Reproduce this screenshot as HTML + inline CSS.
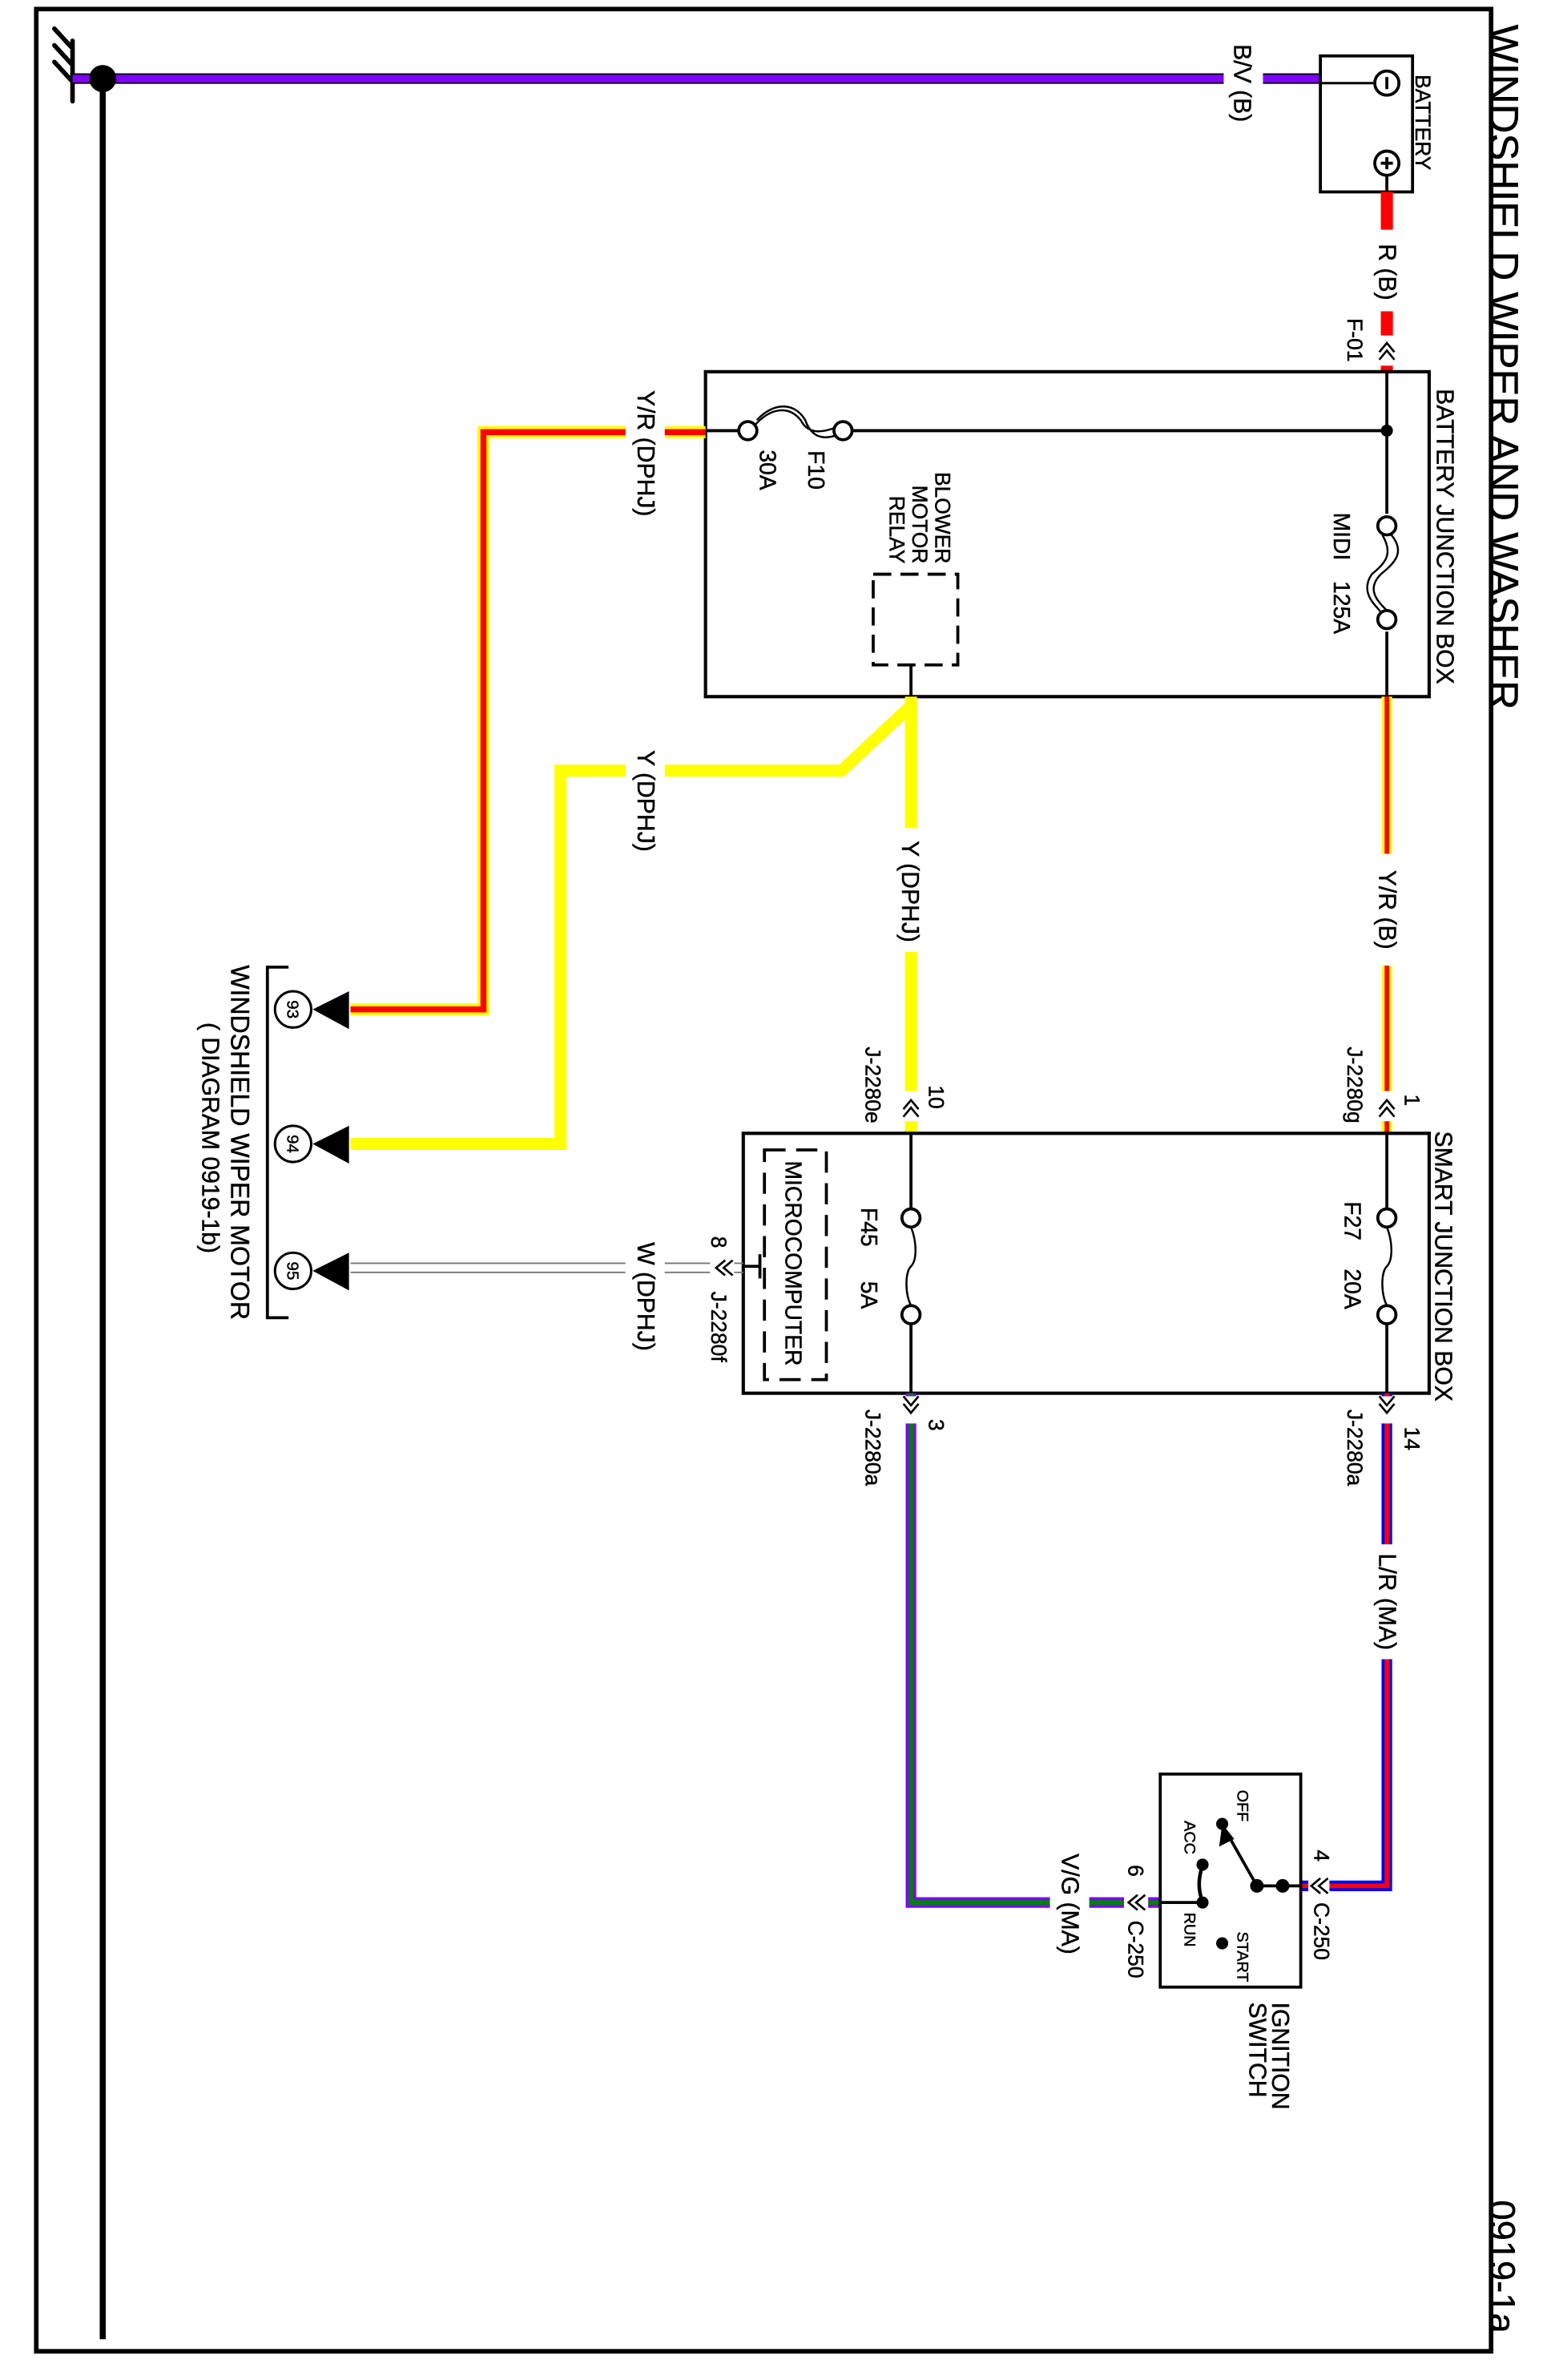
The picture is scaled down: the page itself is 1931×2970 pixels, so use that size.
<!DOCTYPE html>
<html><head><meta charset="utf-8"><style>
html,body{margin:0;padding:0;background:#fff}
svg{display:block}
text{font-family:"Liberation Sans",Arial,sans-serif;fill:#000;stroke:#000;stroke-width:0.25}
</style></head><body>
<svg width="1931" height="2970" viewBox="0 0 1024 1575" xmlns="http://www.w3.org/2000/svg">
<defs>
<g id="chevU" fill="none" stroke="#000" stroke-width="1.4"><polyline points="-5,4 0,-2 5,4"/><polyline points="-5,9 0,3 5,9"/></g>
<g id="chevD" fill="none" stroke="#000" stroke-width="1.4"><polyline points="-5,-4 0,2 5,-4"/><polyline points="-5,-9 0,-3 5,-9"/></g>
<g id="chevL" fill="none" stroke="#000" stroke-width="1.4"><polyline points="4,-5 -2,0 4,5"/><polyline points="9,-5 3,0 9,5"/></g>
</defs>
<rect x="24" y="6" width="963" height="1550" fill="none" stroke="#000" stroke-width="3"/>

<g stroke="#000" stroke-width="3" stroke-linecap="round">
<line x1="48" y1="27" x2="48" y2="67"/>
<line x1="36" y1="19" x2="47" y2="31"/><line x1="36" y1="30" x2="47" y2="42"/><line x1="36" y1="41" x2="47" y2="53"/>
</g>
<line x1="68" y1="52" x2="68" y2="1548" stroke="#000" stroke-width="4"/>
<line x1="48" y1="52" x2="873" y2="52" stroke="#000" stroke-width="7"/>
<line x1="48" y1="52" x2="873" y2="52" stroke="#7f00ff" stroke-width="5"/>
<rect x="810" y="40" width="26" height="24" fill="#fff"/>
<circle cx="68" cy="52" r="9" fill="#000"/>

<rect x="874" y="37" width="61" height="90" fill="none" stroke="#000" stroke-width="2"/>
<line x1="874" y1="55" x2="909" y2="55" stroke="#000" stroke-width="1.6"/>
<circle cx="918" cy="55" r="8" fill="#fff" stroke="#000" stroke-width="2"/><line x1="918" y1="51" x2="918" y2="59" stroke="#000" stroke-width="2"/>
<circle cx="918" cy="108" r="8" fill="#fff" stroke="#000" stroke-width="2"/><line x1="918" y1="104" x2="918" y2="112" stroke="#000" stroke-width="2"/><line x1="914" y1="108" x2="922" y2="108" stroke="#000" stroke-width="2"/>
<line x1="918" y1="116" x2="918" y2="127" stroke="#000" stroke-width="2"/>

<line x1="918" y1="127" x2="918" y2="246" stroke="#f00" stroke-width="8"/>
<rect x="905" y="152" width="26" height="54" fill="#fff"/>
<rect x="908" y="222" width="20" height="20" fill="#fff"/>
<use href="#chevU" x="918" y="229"/>

<rect x="467" y="246" width="479" height="215" fill="none" stroke="#000" stroke-width="2.2"/>
<line x1="918" y1="246" x2="918" y2="340" stroke="#000" stroke-width="2"/>
<line x1="918" y1="418" x2="918" y2="461" stroke="#000" stroke-width="2"/>
<circle cx="918" cy="285" r="4" fill="#000"/>
<circle cx="918" cy="348" r="6" fill="#fff" stroke="#000" stroke-width="2"/>
<circle cx="918" cy="410" r="6" fill="#fff" stroke="#000" stroke-width="2"/>
<path d="M921,354 C930,365 924,372 914,380 C904,390 912,398 918,404" fill="none" stroke="#000" stroke-width="1.3"/>
<path d="M915,354 C922,366 918,372 908,380 C900,392 910,400 914,405" fill="none" stroke="#000" stroke-width="1.3"/>
<line x1="467" y1="285" x2="489" y2="285" stroke="#000" stroke-width="2"/>
<line x1="564" y1="285" x2="918" y2="285" stroke="#000" stroke-width="2"/>
<circle cx="495" cy="285" r="6" fill="#fff" stroke="#000" stroke-width="2"/>
<circle cx="558" cy="285" r="6" fill="#fff" stroke="#000" stroke-width="2"/>
<path d="M500,281 C510,270 522,268 530,278 C535,288 545,286 553,283" fill="none" stroke="#000" stroke-width="1.3"/>
<path d="M501,278 C512,266 526,266 533,278 C538,292 548,290 554,288" fill="none" stroke="#000" stroke-width="1.3"/>
<rect x="578" y="380" width="56" height="60" fill="none" stroke="#000" stroke-width="2" stroke-dasharray="12,6"/>
<line x1="603" y1="440" x2="603" y2="461" stroke="#000" stroke-width="2"/>

<path d="M467,286 L320,286 L320,668 L232,668" fill="none" stroke="#ff0" stroke-width="8"/>
<path d="M467,286 L320,286 L320,668 L232,668" fill="none" stroke="#f00" stroke-width="4"/>
<rect x="414" y="250" width="26" height="100" fill="#fff"/>

<path d="M603,461 L603,750" fill="none" stroke="#ff0" stroke-width="8"/>
<path d="M603,467 L557,510 L371,510 L371,757 L232,757" fill="none" stroke="#ff0" stroke-width="8"/>
<rect x="414" y="490" width="26" height="80" fill="#fff"/>
<rect x="590" y="548" width="26" height="82" fill="#fff"/>
<rect x="593" y="722" width="20" height="20" fill="#fff"/>
<use href="#chevU" x="603" y="730"/>

<line x1="918" y1="461" x2="918" y2="750" stroke="#ff0" stroke-width="7"/>
<line x1="918" y1="461" x2="918" y2="750" stroke="#f00" stroke-width="3"/>
<rect x="905" y="565" width="26" height="74" fill="#fff"/>
<rect x="908" y="722" width="20" height="20" fill="#fff"/>
<use href="#chevU" x="918" y="730"/>

<rect x="492" y="750" width="454" height="172" fill="none" stroke="#000" stroke-width="2.2"/>
<line x1="918" y1="750" x2="918" y2="800" stroke="#000" stroke-width="2"/>
<line x1="918" y1="876" x2="918" y2="922" stroke="#000" stroke-width="2"/>
<circle cx="918" cy="806" r="6" fill="#fff" stroke="#000" stroke-width="2"/>
<circle cx="918" cy="870" r="6" fill="#fff" stroke="#000" stroke-width="2"/>
<path d="M918,812 C922,822 922,834 918,838 C914,842 914,856 918,864" fill="none" stroke="#000" stroke-width="1.3"/>
<line x1="603" y1="750" x2="603" y2="800" stroke="#000" stroke-width="2"/>
<line x1="603" y1="876" x2="603" y2="922" stroke="#000" stroke-width="2"/>
<circle cx="603" cy="806" r="6" fill="#fff" stroke="#000" stroke-width="2"/>
<circle cx="603" cy="870" r="6" fill="#fff" stroke="#000" stroke-width="2"/>
<path d="M603,812 C607,822 607,834 603,838 C599,842 599,856 603,864" fill="none" stroke="#000" stroke-width="1.3"/>
<rect x="506" y="761" width="41" height="152" fill="none" stroke="#000" stroke-width="2" stroke-dasharray="14,7"/>
<line x1="492" y1="838" x2="503" y2="838" stroke="#000" stroke-width="2"/>
<line x1="503" y1="830" x2="503" y2="846" stroke="#000" stroke-width="2"/>

<line x1="232" y1="836" x2="492" y2="836" stroke="#777" stroke-width="1"/>
<line x1="232" y1="842" x2="492" y2="842" stroke="#777" stroke-width="1"/>
<rect x="414" y="815" width="26" height="85" fill="#fff"/>
<rect x="470" y="830" width="16" height="16" fill="#fff"/>
<use href="#chevL" x="476" y="839"/>

<g fill="#000">
<polygon points="207,668 231,656 231,681"/>
<polygon points="207,757 231,745 231,770"/>
<polygon points="207,841 231,829 231,854"/>
</g>
<g fill="#fff" stroke="#000" stroke-width="1.6">
<circle cx="194" cy="668" r="12"/><circle cx="194" cy="757" r="12"/><circle cx="194" cy="841" r="12"/>
</g>
<path d="M191,640 L177,640 L177,872 L191,872" fill="none" stroke="#000" stroke-width="2"/>

<path d="M918,922 L918,1248 L862,1248" fill="none" stroke="#00f" stroke-width="7"/>
<path d="M918,922 L918,1248 L862,1248" fill="none" stroke="#f00" stroke-width="3"/>
<rect x="905" y="1022" width="26" height="76" fill="#fff"/>
<rect x="908" y="924" width="20" height="18" fill="#fff"/>
<use href="#chevD" x="918" y="933"/>
<rect x="866" y="1238" width="14" height="20" fill="#fff"/>
<use href="#chevL" x="870" y="1248"/>

<path d="M603,922 L603,1259 L768,1259" fill="none" stroke="#7f00ff" stroke-width="7"/>
<path d="M603,922 L603,1259 L768,1259" fill="none" stroke="#008000" stroke-width="3"/>
<rect x="695" y="1245" width="26" height="28" fill="#fff"/>
<rect x="593" y="924" width="20" height="18" fill="#fff"/>
<use href="#chevD" x="603" y="933"/>
<rect x="744" y="1249" width="16" height="20" fill="#fff"/>
<use href="#chevL" x="749" y="1259"/>

<rect x="768" y="1174" width="93" height="141" fill="none" stroke="#000" stroke-width="2"/>
<line x1="832" y1="1248" x2="861" y2="1248" stroke="#000" stroke-width="2"/>
<line x1="768" y1="1259" x2="796" y2="1259" stroke="#000" stroke-width="2"/>
<line x1="832" y1="1248" x2="811" y2="1211" stroke="#000" stroke-width="2"/>
<polygon points="809,1207 807,1222 817,1217" fill="#000"/>
<path d="M796,1234 C793,1244 793,1250 796,1259" fill="none" stroke="#000" stroke-width="2.4"/>
<g fill="#000"><circle cx="849" cy="1248" r="4.5"/><circle cx="832" cy="1248" r="4.5"/><circle cx="809" cy="1207" r="4"/><circle cx="796" cy="1234" r="4"/><circle cx="796" cy="1259" r="4"/><circle cx="809" cy="1286" r="4"/></g>

<g text-anchor="middle">
<text transform="translate(986,243) rotate(90)" font-size="27">WINDSHIELD WIPER AND WASHER</text>
<text transform="translate(986,1500) rotate(90)" font-size="24">0919-1a</text>
<text transform="translate(937,81) rotate(90)" font-size="14">BATTERY</text>
<text transform="translate(817,55) rotate(90)" font-size="16">B/V (B)</text>
<text transform="translate(913,180) rotate(90)" font-size="16">R (B)</text>
<text transform="translate(892,225) rotate(90)" font-size="14">F-01</text>
<text transform="translate(951,355) rotate(90)" font-size="16">BATTERY JUNCTION BOX</text>
<text transform="translate(883,355) rotate(90)" font-size="15">MIDI</text>
<text transform="translate(883,402) rotate(90)" font-size="15">125A</text>
<text transform="translate(535,311) rotate(90)" font-size="15">F10</text>
<text transform="translate(503,311) rotate(90)" font-size="15">30A</text>
<text transform="translate(422,300) rotate(90)" font-size="16">Y/R (DPHJ)</text>
<text transform="translate(422,530) rotate(90)" font-size="16">Y (DPHJ)</text>
<text transform="translate(597,590) rotate(90)" font-size="16">Y (DPHJ)</text>
<text transform="translate(913,602) rotate(90)" font-size="16">Y/R (B)</text>
<text transform="translate(930,728) rotate(90)" font-size="14">1</text>
<text transform="translate(892,718) rotate(90)" font-size="14">J-2280g</text>
<text transform="translate(615,726) rotate(90)" font-size="14">10</text>
<text transform="translate(573,718) rotate(90)" font-size="14">J-2280e</text>
<text transform="translate(950,838) rotate(90)" font-size="16">SMART JUNCTION BOX</text>
<text transform="translate(890,808) rotate(90)" font-size="15">F27</text>
<text transform="translate(890,853) rotate(90)" font-size="15">20A</text>
<text transform="translate(570,812) rotate(90)" font-size="15">F45</text>
<text transform="translate(570,857) rotate(90)" font-size="15">5A</text>
<text transform="translate(520,836) rotate(90)" font-size="15">MICROCOMPUTER</text>
<text transform="translate(471,822) rotate(90)" font-size="14">8</text>
<text transform="translate(471,878) rotate(90)" font-size="14">J-2280f</text>
<text transform="translate(422,858) rotate(90)" font-size="16">W (DPHJ)</text>
<text transform="translate(930,952) rotate(90)" font-size="14">14</text>
<text transform="translate(892,958) rotate(90)" font-size="14">J-2280a</text>
<text transform="translate(615,943) rotate(90)" font-size="14">3</text>
<text transform="translate(573,958) rotate(90)" font-size="14">J-2280a</text>
<text transform="translate(913,1060) rotate(90)" font-size="16">L/R (MA)</text>
<text transform="translate(703,1260) rotate(90)" font-size="16">V/G (MA)</text>
<text transform="translate(870,1228) rotate(90)" font-size="14">4</text>
<text transform="translate(870,1278) rotate(90)" font-size="14">C-250</text>
<text transform="translate(747,1238) rotate(90)" font-size="14">6</text>
<text transform="translate(747,1290) rotate(90)" font-size="14">C-250</text>
<text transform="translate(819,1195) rotate(90)" font-size="10.5">OFF</text>
<text transform="translate(784,1216) rotate(90)" font-size="10.5">ACC</text>
<text transform="translate(784,1277) rotate(90)" font-size="10.5">RUN</text>
<text transform="translate(819,1295) rotate(90)" font-size="10.5">START</text>
<text transform="translate(190,668) rotate(90)" font-size="11">93</text>
<text transform="translate(190,757) rotate(90)" font-size="11">94</text>
<text transform="translate(190,841) rotate(90)" font-size="11">95</text>
<text transform="translate(153,756) rotate(90)" font-size="17">WINDSHIELD WIPER MOTOR</text>
<text transform="translate(134,753) rotate(90)" font-size="16">( DIAGRAM 0919-1b)</text>
</g>
<g text-anchor="start">
<text transform="translate(842,1325) rotate(90)" font-size="16">IGNITION</text>
<text transform="translate(827,1325) rotate(90)" font-size="16">SWITCH</text>
</g>
<g text-anchor="end">
<text transform="translate(619,373) rotate(90)" font-size="14">BLOWER</text>
<text transform="translate(604,373) rotate(90)" font-size="14">MOTOR</text>
<text transform="translate(589,373) rotate(90)" font-size="14">RELAY</text>
</g>
</svg>
</body></html>
